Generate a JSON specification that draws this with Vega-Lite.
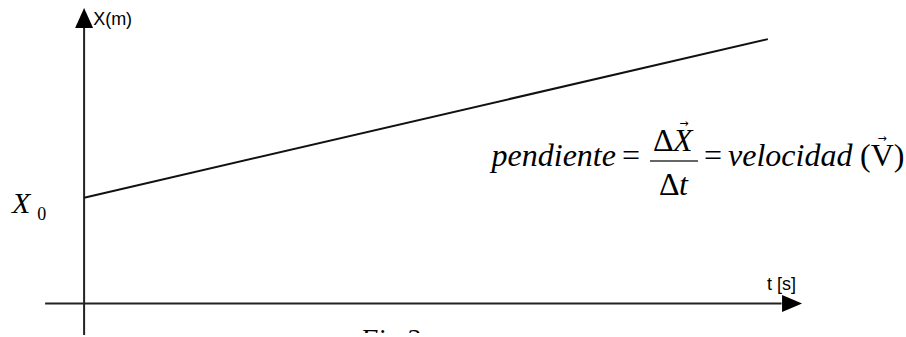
{
  "$schema": "https://vega.github.io/schema/vega-lite/v6.json",
  "width": 906,
  "height": 337,
  "padding": 0,
  "autosize": {"type": "fit", "contains": "padding"},
  "background": "white",
  "config": {"view": {"stroke": null}},
  "datasets": {
    "position": [
      {"t": 0, "X": 2},
      {"t": 10, "X": 5}
    ],
    "axes": [
      {"t0": 0, "t1": 0, "X0": -0.6, "X1": 5.27},
      {"t0": -0.57, "t1": 10.2, "X0": 0, "X1": 0}
    ],
    "upArrow": [{"t": 0, "X": 5.4}],
    "rightArrow": [{"t": 10.354, "X": 0}],
    "axisTitles": [
      {"t": 0.132, "X": 5.366, "label": "X(m)"},
      {"t": 9.988, "X": 0.356, "label": "t [s]"}
    ],
    "italicRight": [
      {"t": 7.778, "X": 2.6, "label": "pendiente"}
    ],
    "italicLeft": [
      {"t": 8.612, "X": 2.88, "label": "X"},
      {"t": 8.7, "X": 2.057, "label": "t"},
      {"t": 9.417, "X": 2.6, "label": "velocidad"}
    ],
    "uprightLeft": [
      {"t": 8.319, "X": 2.88, "label": "Δ"},
      {"t": 8.407, "X": 2.057, "label": "Δ"},
      {"t": 11.347, "X": 2.6, "label": "(V)"}
    ],
    "uprightCenter": [
      {"t": 7.998, "X": 2.6, "label": "="},
      {"t": 9.197, "X": 2.6, "label": "="}
    ],
    "fractionBar": [{"t0": 8.276, "t1": 8.978, "X": 2.692}],
    "vectorArrows": [
      {"t": 8.773, "X": 3.403},
      {"t": 11.669, "X": 3.104}
    ],
    "initial": [{"t": -1.053, "X": 1.702, "label": "X"}],
    "initialSub": [{"t": -0.687, "X": 1.571, "label": "0"}],
    "caption": [{"t": 4.914, "X": -0.42, "label": "Fig 2"}]
  },
  "layer": [
    {
      "data": {"name": "axes"},
      "mark": {"type": "rule", "color": "#222", "strokeWidth": 2},
      "encoding": {
        "x": {"field": "t0", "type": "quantitative", "scale": {"domain": [-1.23, 12.02], "nice": false, "zero": false}, "axis": null},
        "x2": {"field": "t1"},
        "y": {"field": "X0", "type": "quantitative", "scale": {"domain": [-0.56, 5.74], "nice": false, "zero": false}, "axis": null},
        "y2": {"field": "X1"}
      }
    },
    {
      "data": {"name": "upArrow"},
      "mark": {"type": "point", "shape": "M0,-1L-0.9,1L0.9,1Z", "size": 400, "filled": true, "color": "#000", "opacity": 1},
      "encoding": {
        "x": {"field": "t", "type": "quantitative"},
        "y": {"field": "X", "type": "quantitative"}
      }
    },
    {
      "data": {"name": "rightArrow"},
      "mark": {"type": "point", "shape": "M1,0L-1,-0.85L-1,0.85Z", "size": 400, "filled": true, "color": "#000", "opacity": 1},
      "encoding": {
        "x": {"field": "t", "type": "quantitative"},
        "y": {"field": "X", "type": "quantitative"}
      }
    },
    {
      "data": {"name": "position"},
      "mark": {"type": "line", "color": "#111", "strokeWidth": 2},
      "encoding": {
        "x": {"field": "t", "type": "quantitative"},
        "y": {"field": "X", "type": "quantitative"}
      }
    },
    {
      "data": {"name": "axisTitles"},
      "mark": {"type": "text", "font": "Liberation Sans", "fontSize": 18, "align": "left", "baseline": "middle", "color": "#000"},
      "encoding": {
        "x": {"field": "t", "type": "quantitative"},
        "y": {"field": "X", "type": "quantitative"},
        "text": {"field": "label"}
      }
    },
    {
      "data": {"name": "italicRight"},
      "mark": {"type": "text", "font": "Liberation Serif", "fontStyle": "italic", "fontSize": 32, "align": "right", "baseline": "alphabetic", "color": "#000"},
      "encoding": {
        "x": {"field": "t", "type": "quantitative"},
        "y": {"field": "X", "type": "quantitative"},
        "text": {"field": "label"}
      }
    },
    {
      "data": {"name": "italicLeft"},
      "mark": {"type": "text", "font": "Liberation Serif", "fontStyle": "italic", "fontSize": 32, "align": "left", "baseline": "alphabetic", "color": "#000"},
      "encoding": {
        "x": {"field": "t", "type": "quantitative"},
        "y": {"field": "X", "type": "quantitative"},
        "text": {"field": "label"}
      }
    },
    {
      "data": {"name": "uprightLeft"},
      "mark": {"type": "text", "font": "Liberation Serif", "fontSize": 32, "align": "left", "baseline": "alphabetic", "color": "#000"},
      "encoding": {
        "x": {"field": "t", "type": "quantitative"},
        "y": {"field": "X", "type": "quantitative"},
        "text": {"field": "label"}
      }
    },
    {
      "data": {"name": "uprightCenter"},
      "mark": {"type": "text", "font": "Liberation Serif", "fontSize": 32, "align": "center", "baseline": "alphabetic", "color": "#000"},
      "encoding": {
        "x": {"field": "t", "type": "quantitative"},
        "y": {"field": "X", "type": "quantitative"},
        "text": {"field": "label"}
      }
    },
    {
      "data": {"name": "fractionBar"},
      "mark": {"type": "rule", "color": "#333", "strokeWidth": 1.5},
      "encoding": {
        "x": {"field": "t0", "type": "quantitative"},
        "x2": {"field": "t1"},
        "y": {"field": "X", "type": "quantitative"}
      }
    },
    {
      "data": {"name": "vectorArrows"},
      "mark": {"type": "text", "text": "→", "font": "DejaVu Sans", "fontSize": 11, "align": "center", "baseline": "middle", "color": "#000"},
      "encoding": {
        "x": {"field": "t", "type": "quantitative"},
        "y": {"field": "X", "type": "quantitative"}
      }
    },
    {
      "data": {"name": "initial"},
      "mark": {"type": "text", "font": "Liberation Serif", "fontStyle": "italic", "fontSize": 30, "align": "left", "baseline": "alphabetic", "color": "#000"},
      "encoding": {
        "x": {"field": "t", "type": "quantitative"},
        "y": {"field": "X", "type": "quantitative"},
        "text": {"field": "label"}
      }
    },
    {
      "data": {"name": "initialSub"},
      "mark": {"type": "text", "font": "Liberation Serif", "fontSize": 18, "align": "left", "baseline": "alphabetic", "color": "#000"},
      "encoding": {
        "x": {"field": "t", "type": "quantitative"},
        "y": {"field": "X", "type": "quantitative"},
        "text": {"field": "label"}
      }
    },
    {
      "data": {"name": "caption"},
      "mark": {"type": "text", "font": "Liberation Serif", "fontStyle": "italic", "fontSize": 28, "align": "right", "baseline": "top", "color": "#000", "clip": true},
      "encoding": {
        "x": {"field": "t", "type": "quantitative"},
        "y": {"field": "X", "type": "quantitative"},
        "text": {"field": "label"}
      }
    }
  ]
}
